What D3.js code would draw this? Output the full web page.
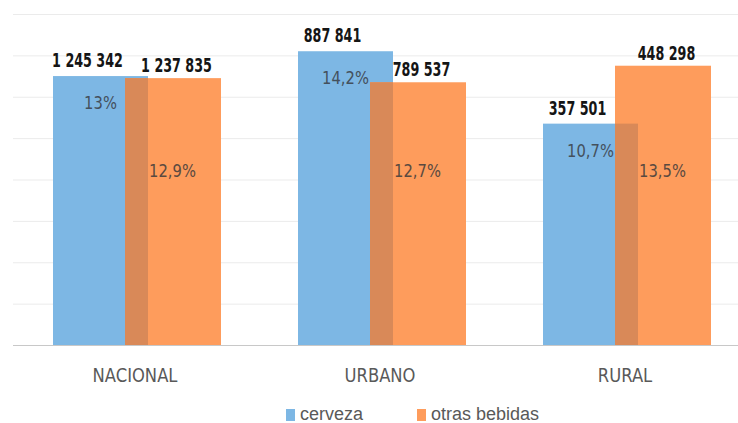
<html>
  <head>
    <meta charset="utf-8">
    <script src="https://cdn.jsdelivr.net/npm/d3@7"></script>
    <style>
      body { margin: 0; background: #fff; }
      svg { display: block; }
    </style>
  </head>
  <body>
    <svg id="chart" width="738" height="423"></svg>
  <script>
    const categories = ['NACIONAL', 'URBANO', 'RURAL']
    const seriesNames = ['cerveza', 'otras bebidas']
    const cervezaPct = [13, 14.2, 10.7]
    const otrasPct = [12.9, 12.7, 13.5]
    const cervezaPop = [1245342, 887841, 357501]
    const otrasPop = [1237835, 789537, 448298]
    const gridTicks = [0, 2, 4, 6, 8, 10, 12, 14, 16]

    const blue = '#7db7e4'
    const orange = '#fe9c5c'
    const overlapColor = '#d98958'
    const font = '"DejaVu Sans", sans-serif'

    const svg = d3.select('#chart')

    const x = d3.scaleBand().domain(categories).range([14.5, 749.5])
    const y = d3.scaleLinear().domain([0, 16]).range([345, 14])

    const locale = d3.formatLocale({ decimal: ',', thousands: ' ', grouping: [3], currency: ['', ''] })
    const fmtNum = locale.format(',d')
    const fmtPct = v => String(v).replace('.', ',') + '%'

    const barW = 95
    const center = c => x(c) + x.bandwidth() / 2
    const blueX = c => center(c) - 84
    const orangeX = c => center(c) - 12

    // narrow text: no condensed font installed, so squeeze it horizontally
    function label(sel, opts) {
      const gg = sel.append('g')
        .attr('transform', d => `translate(${opts.x(d)},${opts.y(d)}) scale(${opts.sx},1)`)
      gg.append('text')
        .attr('text-anchor', 'middle')
        .style('font-family', font)
        .style('font-size', opts.size + 'px')
        .style('font-weight', opts.bold ? 'bold' : 'normal')
        .attr('fill', opts.fill)
        .text(opts.text)
    }

    // grid lines
    svg.append('g').selectAll('line').data(gridTicks.slice(1)).enter()
      .append('line')
        .attr('x1', 13).attr('x2', 738)
        .attr('y1', d => y(d) + 0.5).attr('y2', d => y(d) + 0.5)
        .attr('stroke', '#ebebeb')

    const rows = categories.map((c, i) => ({
      cat: c, a: cervezaPct[i], b: otrasPct[i], na: cervezaPop[i], nb: otrasPop[i]
    }))

    // bars
    const g = svg.append('g')
    g.selectAll('.blue').data(rows).enter().append('rect')
      .attr('x', d => blueX(d.cat)).attr('width', barW)
      .attr('y', d => y(d.a)).attr('height', d => y(0) - y(d.a))
      .attr('fill', blue)
    g.selectAll('.orange').data(rows).enter().append('rect')
      .attr('x', d => orangeX(d.cat)).attr('width', barW + 1)
      .attr('y', d => y(d.b)).attr('height', d => y(0) - y(d.b))
      .attr('fill', orange)
    // overlap of the two bars
    g.selectAll('.overlap').data(rows).enter().append('rect')
      .attr('x', d => orangeX(d.cat))
      .attr('width', d => blueX(d.cat) + barW - orangeX(d.cat))
      .attr('y', d => y(Math.min(d.a, d.b)))
      .attr('height', d => y(0) - y(Math.min(d.a, d.b)))
      .attr('fill', overlapColor)

    // baseline
    svg.append('line')
      .attr('x1', 13).attr('x2', 738)
      .attr('y1', y(0) + 0.5).attr('y2', y(0) + 0.5)
      .attr('stroke', '#c8c8c8')

    const rowSel = g.selectAll('.lab').data(rows).enter().append('g')

    // value labels
    label(rowSel, {
      x: d => blueX(d.cat) + barW / 2 - 13, y: d => y(d.a) - 9,
      sx: 0.67, size: 19, bold: true, fill: '#151515', text: d => fmtNum(d.na)
    })
    label(rowSel, {
      x: d => orangeX(d.cat) + barW / 2 + 4, y: d => y(d.b) - 6,
      sx: 0.67, size: 19, bold: true, fill: '#151515', text: d => fmtNum(d.nb)
    })

    // percent labels
    label(rowSel, {
      x: d => blueX(d.cat) + barW / 2, y: d => y(d.a) + 33,
      sx: 0.82, size: 18, fill: '#44505c', text: d => fmtPct(d.a)
    })
    label(rowSel, {
      x: d => orangeX(d.cat) + barW / 2, y: d => y(8.1),
      sx: 0.82, size: 18, fill: '#5a4a40', text: d => fmtPct(d.b)
    })

    // category labels
    const catSel = svg.append('g').selectAll('g').data(categories).enter().append('g')
    label(catSel, {
      x: d => center(d) - 2, y: () => 382,
      sx: 0.82, size: 20, fill: '#595959', text: d => d
    })

    // legend
    const legendX = [286, 417]
    const legend = svg.append('g').selectAll('g').data(seriesNames).enter().append('g')
      .attr('transform', (d, i) => `translate(${legendX[i]},408)`)
    legend.append('rect')
      .attr('y', 1)
      .attr('width', 9).attr('height', 12)
      .attr('fill', (d, i) => i === 0 ? blue : orange)
    legend.append('text')
      .attr('x', 14).attr('y', 12)
      .style('font-family', '"Liberation Sans", sans-serif').style('font-size', '18px')
      .attr('fill', '#595959')
      .text(d => d)
  </script>
  </body>
</html>
